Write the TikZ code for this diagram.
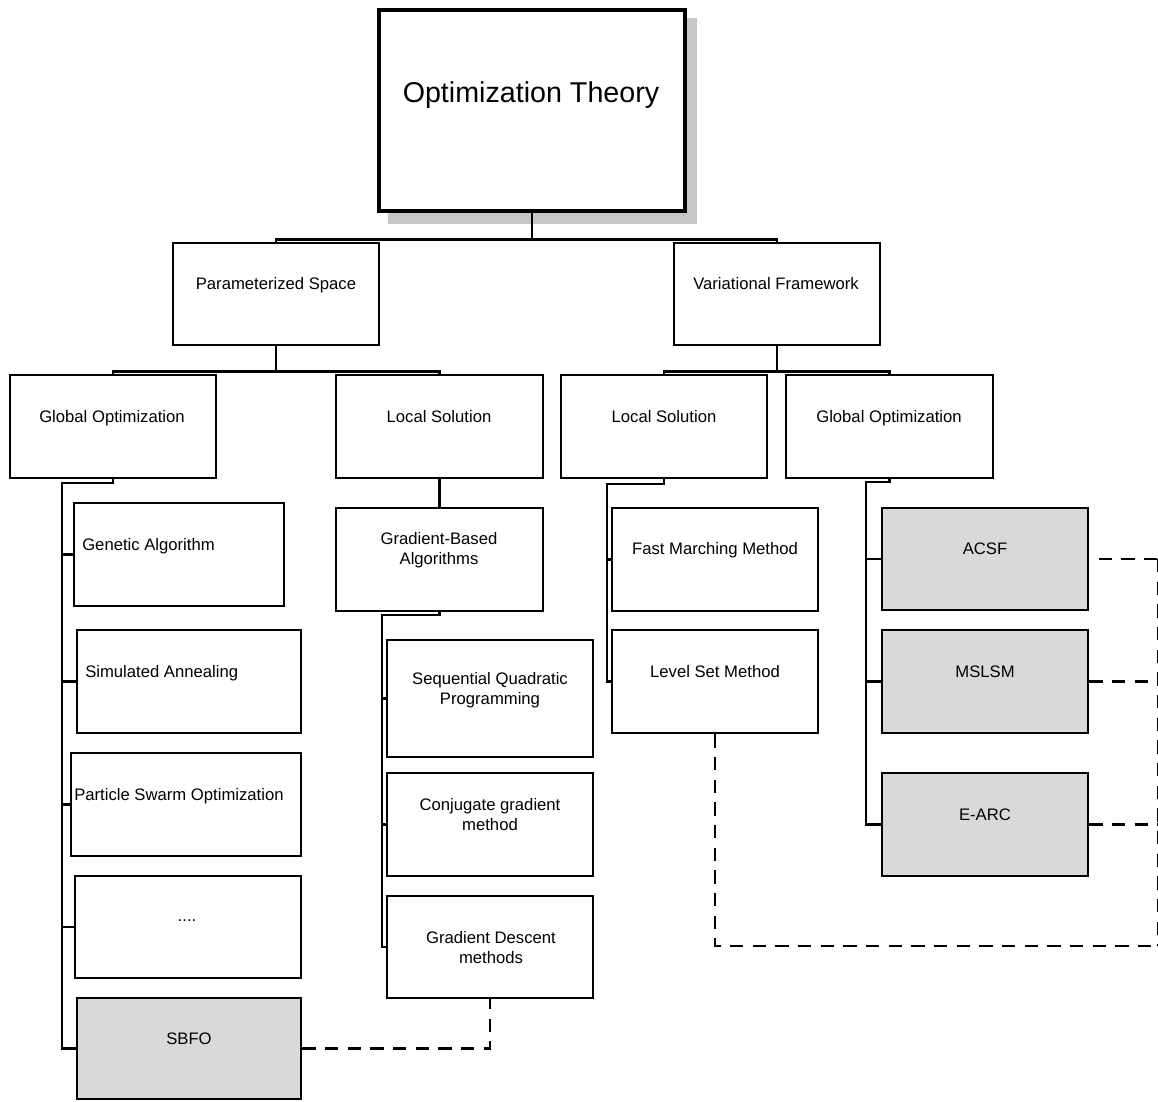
\documentclass[tikz,border=0pt]{standalone}
\usepackage{fontspec}
\setmainfont{Liberation Sans}
\usetikzlibrary{fit}
\begin{document}
\begin{tikzpicture}[x=0.75pt,y=-0.75pt,
  box/.style={draw=black, line width=2.1pt, fill=white, inner sep=0pt},
  graybox/.style={box, fill=black!15},
  conn/.style={draw=black, line width=2.1pt},
  link/.style={draw=black, line width=2pt, dash pattern=on 10pt off 7pt},
  lab/.style={font=\fontsize{12.5}{15}\selectfont, inner sep=0pt, anchor=base, align=center},
  labl/.style={lab, anchor=base west},
]
\useasboundingbox (0,0) rectangle (1158,1101);

% root with its drop shadow
\fill[black!22] (388,18) rectangle (697,224);
\node[box, line width=3.2pt, fit={(379,10)(685,211)}] (root) {};
\node[lab, font=\fontsize{21.5}{26}\selectfont] (root-t) at (531,102) {Optimization Theory};

% first level
\node[box, fit={(173,243)(379,345)}] (ps) {};
\node[lab] (ps-t) at (276,289) {Parameterized Space};
\node[box, fit={(674,243)(880,345)}] (vf) {};
\node[lab] (vf-t) at (776,289) {Variational Framework};

% second level
\node[box, fit={(10,375)(216,478)}] (go1) {};
\node[lab] (go1-t) at (112,422) {Global Optimization};
\node[box, fit={(336,375)(543,478)}] (ls1) {};
\node[lab] (ls1-t) at (439,422) {Local Solution};
\node[box, fit={(561,375)(767,478)}] (ls2) {};
\node[lab] (ls2-t) at (664,422) {Local Solution};
\node[box, fit={(786,375)(993,478)}] (go2) {};
\node[lab] (go2-t) at (889,422) {Global Optimization};

% global optimization (parameterized)
\node[box, fit={(74,503)(284,606)}] (ga) {};
\node[labl] (ga-t) at (82,550) {Genetic Algorithm};
\node[box, fit={(77,630)(301,733)}] (sa) {};
\node[labl] (sa-t) at (85,677) {Simulated Annealing};
\node[box, fit={(71,753)(301,856)}] (pso) {};
\node[labl] (pso-t) at (74,800) {Particle Swarm Optimization};
\node[box, fit={(75,876)(301,978)}] (etc) {};
\node[lab] (etc-t) at (187,921) {....};
\node[graybox, fit={(77,998)(301,1099)}] (sbfo) {};
\node[lab] (sbfo-t) at (189,1044) {SBFO};

% local solution (parameterized); two-line labels sit on their last baseline
\node[box, fit={(336,508)(543,611)}] (gba) {};
\node[lab] (gba-t) at (439,564) {Gradient-Based\\Algorithms};
\node[box, fit={(387,640)(593,757)}] (sqp) {};
\node[lab] (sqp-t) at (490,704) {Sequential Quadratic\\Programming};
\node[box, fit={(387,773)(593,876)}] (cg) {};
\node[lab] (cg-t) at (490,830) {Conjugate gradient\\method};
\node[box, fit={(387,896)(593,998)}] (gd) {};
\node[lab] (gd-t) at (491,963) {Gradient Descent\\methods};

% local solution (variational)
\node[box, fit={(612,508)(818,611)}] (fmm) {};
\node[lab] (fmm-t) at (715,554) {Fast Marching Method};
\node[box, fit={(612,630)(818,733)}] (lsm) {};
\node[lab] (lsm-t) at (715,677) {Level Set Method};

% global optimization (variational)
\node[graybox, fit={(882,508)(1088,610)}] (acsf) {};
\node[lab] (acsf-t) at (985,554) {ACSF};
\node[graybox, fit={(882,630)(1088,733)}] (mslsm) {};
\node[lab] (mslsm-t) at (985,677) {MSLSM};
\node[graybox, fit={(882,773)(1088,876)}] (earc) {};
\node[lab] (earc-t) at (985,820) {E-ARC};

% bus points
\path (root.south) ++(0,26) coordinate (b0);
\path (ps.south) ++(0,25) coordinate (b1);
\path (vf.south) ++(0,25) coordinate (b2);
\coordinate (c1) at (62,483);
\coordinate (c2) at (382,615);
\coordinate (c3) at (607,484);
\coordinate (c4) at (866,482);
\coordinate (r1) at (1158,559);
\coordinate (r4) at (1158,946);

% tree connectors
\draw[conn] (root.south) -- (b0);
\draw[conn] (ps.north) |- (b0) -| (vf.north);
\draw[conn] (ps.south) -- (b1);
\draw[conn] (go1.north) |- (b1) -| (ls1.north);
\draw[conn] (vf.south) -- (b2);
\draw[conn] (ls2.north) |- (b2) -| (go2.north);

\draw[conn] (go1.south) |- (c1) |- (sbfo.west);
\draw[conn] (c1 |- ga.west) -- (ga.west);
\draw[conn] (c1 |- sa.west) -- (sa.west);
\draw[conn] (c1 |- pso.west) -- (pso.west);
\draw[conn] (c1 |- etc.west) -- (etc.west);

\draw[conn] (ls1.south) -- (gba.north);
\draw[conn] (gba.south) |- (c2) |- (gd.west);
\draw[conn] (c2 |- sqp.west) -- (sqp.west);
\draw[conn] (c2 |- cg.west) -- (cg.west);

\draw[conn] (ls2.south) |- (c3) |- (lsm.west);
\draw[conn] (c3 |- fmm.west) -- (fmm.west);

\draw[conn] (go2.south) |- (c4) |- (earc.west);
\draw[conn] (c4 |- acsf.west) -- (acsf.west);
\draw[conn] (c4 |- mslsm.west) -- (mslsm.west);

% dashed links
\draw[link] (sbfo.east) -| (gd.south);
\draw[link, dash phase=10pt] (acsf.east) -- (r1);
\draw[link] (mslsm.east) -- (mslsm.east -| r1);
\draw[link] (earc.east) -- (earc.east -| r1);
\draw[link] (lsm.south) |- (r4);
\draw[link] (r1) -- (r4);
\end{tikzpicture}
\end{document}
